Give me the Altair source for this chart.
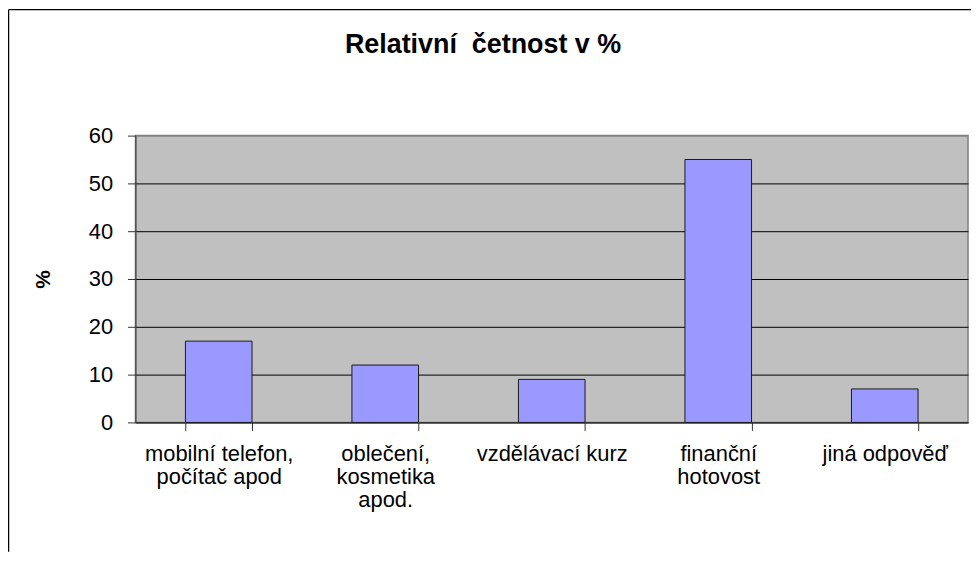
import altair as alt
import pandas as pd

categories = [
    "mobilní telefon,\npočítač apod",
    "oblečení,\nkosmetika\napod.",
    "vzdělávací kurz",
    "finanční\nhotovost",
    "jiná odpověď",
]
values = [17, 12, 9, 55, 7]
y_ticks = [0, 10, 20, 30, 40, 50, 60]
title_text = "Relativní\u00a0 četnost v %"

df = pd.DataFrame({"kategorie": categories, "procenta": values})

FONT = "Liberation Sans"
W, H = 836, 288
PAD_L, PAD_T, PAD_R, PAD_B = 128, 127, 3, 130

bars = alt.Chart(df).mark_bar(
    color="#9999FF", stroke="#1a1a1a", strokeWidth=1
).encode(
    x=alt.X(
        "kategorie:N",
        sort=categories,
        title=None,
        scale=alt.Scale(paddingInner=0.6, paddingOuter=0.3),
        axis=alt.Axis(
            labelExpr="split(datum.label, '\\n')",
            labelAngle=0,
            labelFont=FONT,
            labelFontSize=22,
            labelColor="#000000",
            labelLineHeight=23,
            labelPadding=13,
            labelBaseline="top",
            tickBand="extent",
            tickSize=8,
            tickColor="#333333",
            domainColor="#333333",
            labelLimit=300,
        ),
    ),
    y=alt.Y(
        "procenta:Q",
        title="%",
        scale=alt.Scale(domain=[0, 60], nice=False),
        axis=alt.Axis(
            values=y_ticks,
            labelFont=FONT,
            labelFontSize=22,
            labelColor="#000000",
            labelPadding=15,
            tickSize=8,
            tickColor="#333333",
            domainColor="#333333",
            gridColor={"condition": {"test": "datum.value == 60", "value": "#808080"}, "value": "#000000"},
            gridOpacity=1,
            gridWidth=1,
            titleFont=FONT,
            titleFontSize=21,
            titleFontWeight="bold",
            titleColor="#000000",
            titleAngle=270,
            titleX=-92,
            titleY=H / 2,
            titleAlign="center",
            titleBaseline="middle",
        ),
    ),
)

frame_df = pd.DataFrame({"k": [0]})
left_line = alt.Chart(frame_df).mark_rule(color="#000000", strokeWidth=1.5).encode(
    x=alt.value(-PAD_L + 0.5),
    y=alt.value(-PAD_T + 0.5),
    y2=alt.value(H + PAD_B),
)
top_line = alt.Chart(frame_df).mark_rule(color="#000000", strokeWidth=1.5).encode(
    x=alt.value(-PAD_L + 0.5),
    x2=alt.value(W + PAD_R),
    y=alt.value(-PAD_T + 0.5),
)
title_mark = alt.Chart(frame_df).mark_text(
    font=FONT, fontSize=27, fontWeight="bold", color="#000000",
    align="center", baseline="alphabetic",
).encode(
    x=alt.value(349),
    y=alt.value(-83),
    text=alt.value(title_text),
)

chart = alt.layer(bars, left_line, top_line, title_mark).properties(
    width=W,
    height=H,
    autosize=alt.AutoSizeParams(type="none"),
    padding={"left": PAD_L, "top": PAD_T, "right": PAD_R, "bottom": PAD_B},
    background="#FFFFFF",
).configure_view(
    fill="#C0C0C0", stroke="#808080", strokeWidth=1.5
)

chart.save("out.html", embed_options={"renderer": "svg", "actions": False})
